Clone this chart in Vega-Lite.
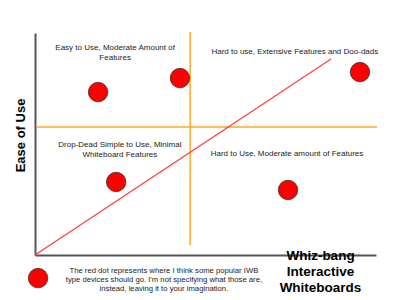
{
  "$schema": "https://vega.github.io/schema/vega-lite/v6.json",
  "width": 341,
  "height": 222,
  "autosize": {"type": "none"},
  "padding": {"left": 35, "top": 33, "right": 24, "bottom": 45},
  "background": "white",
  "config": {"view": {"stroke": null}, "font": "Liberation Sans"},
  "datasets": {
    "dots": [
      {"x": 1.85, "y": 7.34},
      {"x": 4.25, "y": 7.97},
      {"x": 9.53, "y": 8.24},
      {"x": 2.38, "y": 3.29},
      {"x": 7.42, "y": 2.93},
      {"x": 0.09, "y": -1.04}
    ],
    "labels": [
      {"x": 2.35, "y": 9.32, "label": "Easy to Use, Moderate Amount of\nFeatures"},
      {"x": 7.62, "y": 9.14, "label": "Hard to use, Extensive Features and Doo-dads"},
      {"x": 2.49, "y": 4.95, "label": "Drop-Dead Simple to Use, Minimal\nWhiteboard Features"},
      {"x": 7.39, "y": 4.55, "label": "Hard to Use, Moderate amount of Features"}
    ],
    "note": [
      {"x": 3.78, "y": -0.72, "label": "The red dot represents where I think some popular IWB\ntype devices should go. I'm not specifying what those are,\ninstead, leaving it to your imagination."}
    ],
    "hline": [{"x": 0.05, "x2": 10.03, "y": 5.77}],
    "vline": [{"x": 4.55, "y": 0.45, "y2": 10.05}],
    "diag": [{"x": 0, "y": 0, "x2": 8.68, "y2": 8.83}]
  },
  "encoding": {
    "x": {
      "field": "x", "type": "quantitative",
      "scale": {"domain": [0, 10], "nice": false, "zero": false},
      "axis": {
        "title": ["Whiz-bang", "Interactive", "Whiteboards"],
        "titleFontSize": 13.5, "titleFontWeight": "bold", "titleColor": "black",
        "titleX": 285, "titleY": -7, "titleAlign": "center", "titleBaseline": "top",
        "titleLineHeight": 16,
        "domainColor": "#555", "domainWidth": 2,
        "ticks": false, "labels": false, "grid": false
      }
    },
    "y": {
      "field": "y", "type": "quantitative",
      "scale": {"domain": [0, 10], "nice": false, "zero": false},
      "axis": {
        "title": "Ease of Use",
        "titleFontSize": 13, "titleFontWeight": "bold", "titleColor": "black",
        "titleX": -15, "titleY": 102, "titleAngle": -90, "titleAlign": "center", "titleBaseline": "middle",
        "domainColor": "#555", "domainWidth": 2,
        "ticks": false, "labels": false, "grid": false
      }
    }
  },
  "layer": [
    {
      "data": {"name": "hline"},
      "mark": {"type": "rule", "color": "#ffa726", "strokeWidth": 1.5},
      "encoding": {"x2": {"field": "x2"}}
    },
    {
      "data": {"name": "vline"},
      "mark": {"type": "rule", "color": "#ffa726", "strokeWidth": 1.5},
      "encoding": {"y2": {"field": "y2"}}
    },
    {
      "data": {"name": "diag"},
      "mark": {"type": "rule", "color": "#ff3b3b", "strokeWidth": 1.2},
      "encoding": {"x2": {"field": "x2"}, "y2": {"field": "y2"}}
    },
    {
      "data": {"name": "dots"},
      "mark": {"type": "point", "shape": "circle", "filled": true, "fill": "#ff0000", "stroke": "#333", "strokeWidth": 0.8, "size": 380, "opacity": 1}
    },
    {
      "data": {"name": "labels"},
      "mark": {"type": "text", "fontSize": 8, "color": "#222", "align": "center", "baseline": "middle", "lineBreak": "\n", "lineHeight": 9.5},
      "encoding": {"text": {"field": "label"}}
    },
    {
      "data": {"name": "note"},
      "mark": {"type": "text", "fontSize": 7.7, "color": "#222", "align": "center", "baseline": "middle", "lineBreak": "\n", "lineHeight": 9},
      "encoding": {"text": {"field": "label"}}
    }
  ]
}
